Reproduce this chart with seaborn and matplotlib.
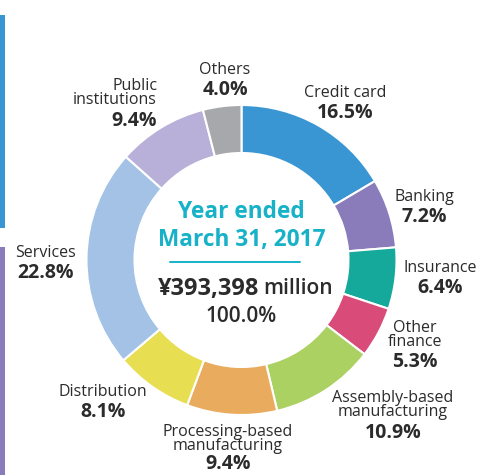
import matplotlib
matplotlib.use("Agg")
import matplotlib.pyplot as plt
import seaborn as sns

sns.set_theme(style="white")
plt.rcParams['font.family'] = ['Open Sans', 'DejaVu Sans']

# ---- data ----
categories = ["Credit card", "Banking", "Insurance", "Other\nfinance",
              "Assembly-based\nmanufacturing", "Processing-based\nmanufacturing",
              "Distribution", "Services", "Public\ninstitutions", "Others"]
shares = [16.5, 7.2, 6.4, 5.3, 10.9, 9.4, 8.1, 22.8, 9.4, 4.0]
colors = ["#3a96d2", "#8a7cba", "#14a99b", "#d94b78", "#aad162",
          "#e9ab5e", "#e8de52", "#a3c2e5", "#b8b0d8", "#a7a8ab"]
center_title = ["Year ended", "March 31, 2017"]
total_amount = "¥393,398"
total_unit = "million"
total_pct = "100.0%"

W, H = 484, 475
fig = plt.figure(figsize=(W / 100, H / 100), dpi=100)
ax = fig.add_axes([0, 0, 1, 1])
ax.set_xlim(0, W)
ax.set_ylim(0, H)
ax.set_aspect('equal')
ax.axis('off')

def Y(y):
    return H - y

cx, cy, R = 241.5, Y(260), 155
ax.pie(shares, colors=colors, startangle=90, counterclock=False,
       center=(cx, cy), radius=R,
       wedgeprops=dict(width=48, edgecolor='white', linewidth=1.5))
ax.set_xlim(0, W)
ax.set_ylim(0, H)

dark = "#2b2b2b"
cyan = "#17b1c8"

# label positions (name center, pct center) in pixel coords; layout only
label_pos = [
    (345, 93, 113, 'center'),
    (424, 197, 217, 'center'),
    (440, 268, 288, 'center'),
    (415, 335, 362, 'center'),
    (393, 405, 433, 'center'),
    (228, 439, 464, 'center'),
    (103, 392, 412, 'center'),
    (46, 253, 273, 'center'),
    (157, 93, 121, 'right'),
    (225, 70, 90, 'center'),
]
for name, val, (x, yn, yp, ha) in zip(categories, shares, label_pos):
    ax.text(x, Y(yn), name, ha=ha, va='center', fontsize=11.5, color=dark,
            linespacing=0.9)
    ax.text(x, Y(yp), f"{val:.1f}%", ha=ha, va='center', fontsize=14,
            fontweight='bold', color=dark)

# center text
ax.text(cx, Y(212), center_title[0], ha='center', va='center', fontsize=16.3,
        fontweight='bold', color=cyan)
ax.text(cx, Y(240), center_title[1], ha='center', va='center', fontsize=16.3,
        fontweight='bold', color=cyan)
ax.plot([170, 300], [Y(262), Y(262)], color=cyan, lw=1.4)
ax.text(259, Y(289), total_amount, ha='right', va='center', fontsize=17,
        fontweight='bold', color=dark)
ax.text(263, Y(289), total_unit, ha='left', va='center', fontsize=15,
        fontweight='semibold', color=dark)
ax.text(cx, Y(317), total_pct, ha='center', va='center', fontsize=15,
        fontweight='semibold', color=dark)

# side bars
ax.add_patch(plt.Rectangle((0, Y(228)), 5, 228 - 15, color="#3a96d2", lw=0))
ax.add_patch(plt.Rectangle((0, 0), 5, Y(247), color="#8a7cba", lw=0))

fig.savefig("out.png", dpi=100)
